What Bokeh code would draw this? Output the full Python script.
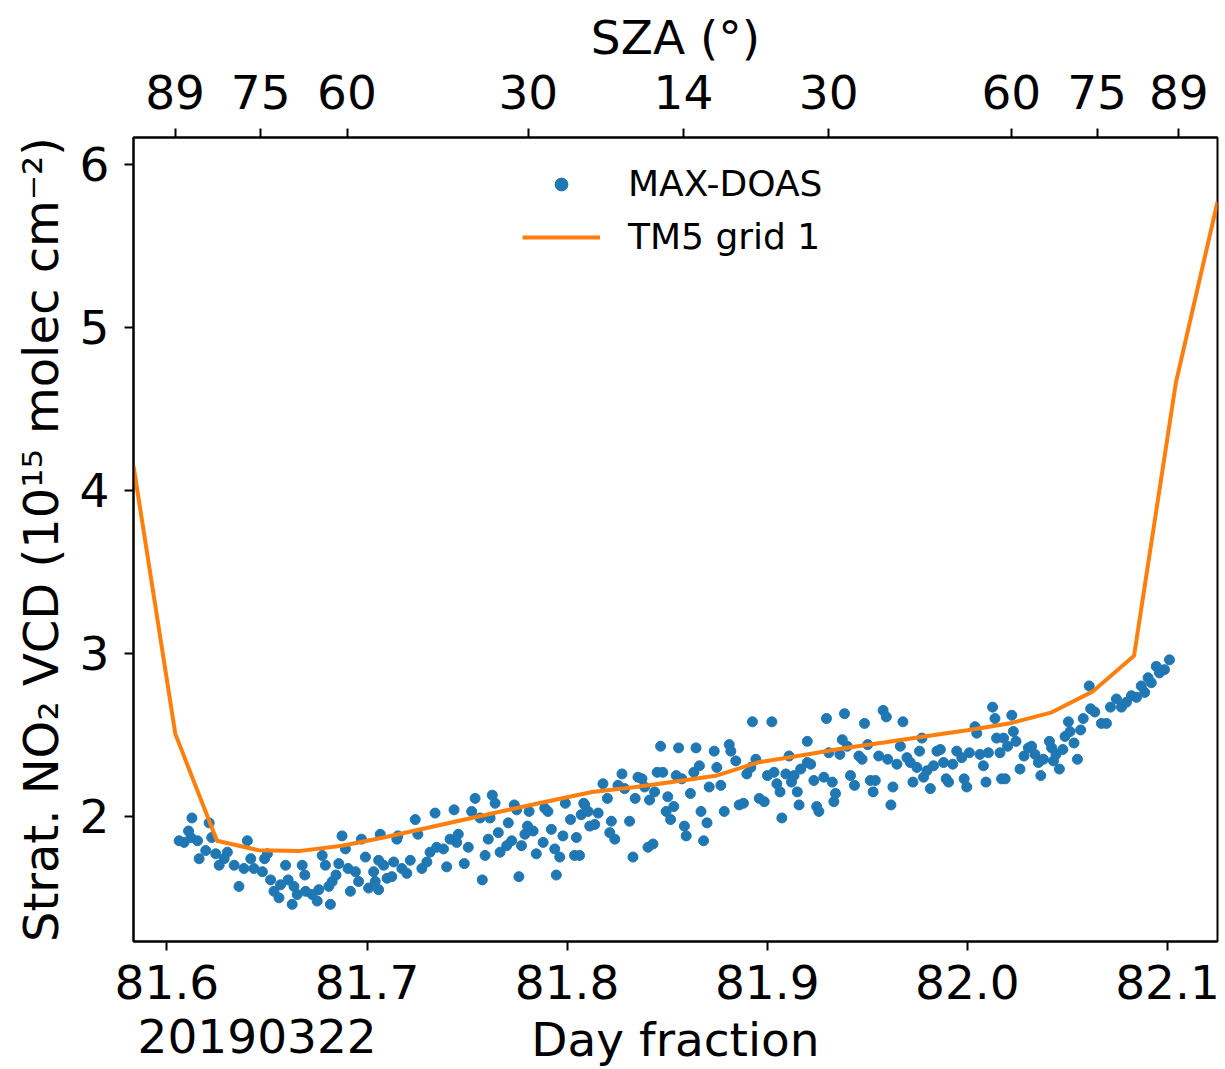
from bokeh.plotting import figure
from bokeh.models import (Range1d, LinearAxis, FixedTicker, NumeralTickFormatter,
                          Legend, LegendItem)
from bokeh.embed import file_html
from bokeh.resources import INLINE

FONT = "DejaVu Sans"

# ---------------- data ----------------
tm5_time = [81.5833, 81.6042, 81.6250, 81.6458, 81.6667, 81.6875, 81.7083, 81.7292,
            81.7500, 81.7708, 81.7917, 81.8125, 81.8333, 81.8542, 81.8750, 81.8958,
            81.9167, 81.9375, 81.9583, 81.9792, 82.0000, 82.0208, 82.0417, 82.0625,
            82.0833, 82.1042, 82.1250]
tm5_vcd = [4.15, 2.506, 1.85, 1.792, 1.788, 1.82, 1.87, 1.927,
           1.984, 2.04, 2.096, 2.149, 2.179, 2.214, 2.251, 2.332,
           2.373, 2.416, 2.453, 2.491, 2.528, 2.569, 2.636, 2.765,
           2.985, 4.66, 5.77]

maxdoas_time = [
    81.6125, 81.6211, 81.6108, 81.6061, 81.6086, 81.6120, 81.6153, 81.6224, 81.6402, 81.6194,
    81.6161, 81.6244, 81.6302, 81.6286, 81.6336, 81.6261, 81.6385, 81.6419, 81.6435, 81.6477,
    81.6488, 81.6502, 81.6360, 81.6518, 81.6535, 81.6568, 81.6593, 81.6606, 81.6626, 81.6651,
    81.6676, 81.6689, 81.6726, 81.6759, 81.6776, 81.6792, 81.6817, 81.6826, 81.6845, 81.6859,
    81.6875, 81.6892, 81.6905, 81.6917, 81.6942, 81.6958, 81.6972, 81.6992, 81.7008, 81.7033,
    81.6560, 81.6693, 81.6751, 81.6635, 81.6809,
    81.7041, 81.7058, 81.7066, 81.7058, 81.7083, 81.7100, 81.7124, 81.7133, 81.7154, 81.7149,
    81.7174, 81.7199, 81.7216, 81.7241, 81.7254, 81.7274, 81.7299, 81.7315, 81.7340, 81.7348,
    81.7382, 81.7398, 81.7415, 81.7435, 81.7448, 81.7456, 81.7486, 81.7506, 81.7523, 81.7540,
    81.7565, 81.7576, 81.7590, 81.7606, 81.7615, 81.7626, 81.7640, 81.7656, 81.7665, 81.7698,
    81.7706, 81.7723, 81.7736, 81.7748, 81.7759, 81.7772, 81.7789, 81.7802, 81.7810, 81.7830,
    81.7846, 81.7880, 81.7888, 81.7904, 81.7921, 81.7938, 81.7946, 81.7963, 81.7979, 81.7991,
    81.8017, 81.8037, 81.8046, 81.8062, 81.8070, 81.8083,
    81.8088, 81.8105, 81.8113, 81.8138, 81.8155, 81.8179, 81.8201, 81.8221, 81.8213, 81.8238,
    81.8254, 81.8274, 81.8287, 81.8312, 81.8329, 81.8340, 81.8354, 81.8374, 81.8387, 81.8404,
    81.8412, 81.8429, 81.8437, 81.8450, 81.8467, 81.8478, 81.8495, 81.8503, 81.8517, 81.8533,
    81.8545, 81.8557, 81.8573, 81.8586, 81.8595, 81.8616, 81.8633, 81.8644, 81.8661, 81.8669,
    81.8682, 81.8699, 81.8710, 81.8735, 81.8748, 81.8768, 81.8785, 81.8810, 81.8818, 81.8843,
    81.8860, 81.8881, 81.8898, 81.8918, 81.8926, 81.8943, 81.8960, 81.8985, 81.9001, 81.9023,
    81.9034, 81.9048, 81.9064, 81.9073, 81.9093, 81.9109, 81.9121,
    81.9134, 81.9150, 81.9159, 81.9167, 81.9200, 81.9200, 81.9217, 81.9233, 81.9247, 81.9258,
    81.9283, 81.9296, 81.9308, 81.9325, 81.9341, 81.9333, 81.9363, 81.9375, 81.9386, 81.9400,
    81.9416, 81.9436, 81.9458, 81.9474, 81.9486, 81.9502, 81.9515, 81.9529, 81.9540, 81.9557,
    81.9579, 81.9595, 81.9602, 81.9628, 81.9618, 81.9648, 81.9665, 81.9678, 81.9698, 81.9715,
    81.9728, 81.9748, 81.9761, 81.9773, 81.9781, 81.9798, 81.9815, 81.9831, 81.9848, 81.9865,
    81.9881, 81.9894, 81.9906, 81.9927, 81.9947, 81.9972, 81.9984, 81.9997, 82.0010, 82.0038,
    82.0047, 82.0063, 82.0080, 82.0093, 82.0105, 82.0126, 82.0138, 82.0146, 82.0163, 82.0171,
    82.0181, 82.0189, 82.0201, 82.0222, 82.0230, 82.0243, 82.0263, 82.0283, 82.0305, 82.0321,
    82.0338, 82.0355, 82.0367, 82.0380, 82.0410, 82.0421, 82.0430, 82.0443, 82.0460, 82.0477,
    82.0488, 82.0505, 82.0513, 82.0533, 82.0550, 82.0566, 82.0579, 82.0609, 82.0616, 82.0637,
    82.0670, 82.0695, 82.0715, 82.0745, 82.0770, 82.0795, 82.0820, 82.0845, 82.0869, 82.0886,
    82.0903, 82.0919, 82.0944, 82.0960, 82.0985, 82.1010,
]
maxdoas_vcd = [
    1.99, 1.96, 1.91, 1.85, 1.84, 1.87, 1.85, 1.87, 1.85, 1.79,
    1.74, 1.77, 1.78, 1.74, 1.70, 1.70, 1.68, 1.74, 1.68, 1.66,
    1.74, 1.77, 1.57, 1.61, 1.54, 1.58, 1.70, 1.61, 1.46, 1.52,
    1.70, 1.64, 1.52, 1.55, 1.76, 1.70, 1.46, 1.60, 1.64, 1.71,
    1.88, 1.80, 1.68, 1.54, 1.66, 1.60, 1.86, 1.75, 1.56, 1.66,
    1.50, 1.54, 1.48, 1.57, 1.57,
    1.60, 1.55, 1.89, 1.73, 1.70, 1.62, 1.63, 1.72, 1.88, 1.86,
    1.68, 1.65, 1.73, 1.98, 1.89, 1.68, 1.72, 1.78, 2.02, 1.81,
    1.80, 1.69, 1.86, 2.04, 1.84, 1.89, 1.71, 1.81, 2.03, 2.11,
    1.99, 1.61, 1.76, 1.86, 1.99, 2.13, 2.08, 1.90, 1.78, 1.82,
    1.96, 1.85, 2.07, 2.04, 1.63, 1.82, 1.89, 1.94, 2.03, 1.91,
    1.77, 1.84, 2.05, 2.03, 1.92, 1.80, 1.64, 1.75, 1.88, 2.08,
    1.98, 1.76, 1.87, 1.76, 2.01, 2.08,
    2.07, 2.03, 1.94, 1.95, 2.02, 2.20, 2.11, 1.97, 1.90, 1.86,
    2.19, 2.26, 2.17, 1.97, 1.75, 2.11, 2.24, 2.23, 2.18, 1.81,
    2.10, 1.83, 2.15, 2.27, 2.43, 2.27, 2.03, 2.12, 1.98, 2.06,
    2.25, 2.42, 2.23, 1.94, 1.88, 2.14, 2.27, 2.42, 2.31, 2.03,
    1.85, 1.96, 2.18, 2.40, 2.30, 2.19, 2.03, 2.44, 2.40, 2.34,
    2.07, 2.08, 2.26, 2.30, 2.58, 2.35, 2.11, 2.09, 2.25, 2.58,
    2.27, 2.20, 2.15, 1.99, 2.26, 2.37, 2.21,
    2.25, 2.15, 2.07, 2.29, 2.33, 2.46, 2.32, 2.22, 2.06, 2.03,
    2.24, 2.60, 2.39, 2.21, 2.14, 2.09, 2.38, 2.47, 2.63, 2.43,
    2.25, 2.19, 2.37, 2.35, 2.57, 2.44, 2.22, 2.15, 2.22, 2.37,
    2.65, 2.61, 2.35, 2.18, 2.07, 2.32, 2.43, 2.58, 2.36, 2.33,
    2.21, 2.30, 2.40, 2.48, 2.24, 2.28, 2.17, 2.31, 2.40, 2.41,
    2.33, 2.23, 2.21, 2.32, 2.40, 2.36, 2.23, 2.18, 2.39, 2.55,
    2.51, 2.38, 2.31, 2.21, 2.39, 2.67, 2.60, 2.48, 2.39, 2.23,
    2.48, 2.23, 2.43, 2.62, 2.52, 2.46, 2.29, 2.37, 2.42, 2.43,
    2.38, 2.33, 2.25, 2.35, 2.46, 2.42, 2.34, 2.38, 2.29, 2.41,
    2.49, 2.58, 2.52, 2.45, 2.35, 2.53, 2.60, 2.80, 2.66, 2.64,
    2.57, 2.57, 2.67, 2.72, 2.67, 2.70, 2.74, 2.73, 2.80, 2.76,
    2.85, 2.82, 2.92, 2.88, 2.90, 2.96,
]

x_ticks = [81.6, 81.7, 81.8, 81.9, 82.0, 82.1]
y_ticks = [2, 3, 4, 5, 6]
sza_tick_time = [81.6041, 81.6469, 81.6900, 81.7806, 81.8581, 81.9307, 82.0220, 82.0648, 82.1057]
sza_tick_labels = ["89", "75", "60", "30", "14", "30", "60", "75", "89"]
date_label = "20190322"
date_label_time = 81.6451

# ---------------- figure ----------------
p = figure(width=1225, height=1069, output_backend="svg", toolbar_location=None,
           x_range=Range1d(81.5833, 82.125), y_range=Range1d(1.232, 6.165),
           x_axis_location=None,
           min_border_left=133, min_border_right=8, min_border_top=137,
           min_border_bottom=126, background_fill_color="white",
           border_fill_color="white")
p.grid.visible = False
p.outline_line_color = "black"
p.outline_line_width = 2

sc = p.scatter(maxdoas_time, maxdoas_vcd, size=10, marker="circle",
               fill_color="#1f77b4", line_color="#1f77b4")
ln = p.line(tm5_time, tm5_vcd, line_width=4, line_color="#ff7f0e")


def style(ax):
    ax.axis_line_color = "black"
    ax.axis_line_width = 2
    ax.major_tick_line_width = 2
    ax.major_tick_line_color = "black"
    ax.major_tick_out = 9
    ax.major_tick_in = 0
    ax.minor_tick_line_color = None
    ax.major_label_text_font = FONT
    ax.major_label_text_font_size = "47px"
    ax.major_label_text_color = "black"
    ax.axis_label_text_font = FONT
    ax.axis_label_text_font_size = "47px"
    ax.axis_label_text_font_style = "normal"
    ax.axis_label_text_color = "black"


# bottom axis: day fraction ticks
xa = LinearAxis(ticker=FixedTicker(ticks=x_ticks),
                formatter=NumeralTickFormatter(format="0.0"))
style(xa)
xa.major_label_standoff = 14
p.add_layout(xa, "below")

# second row below: date and axis title on the same line
xb = LinearAxis(ticker=FixedTicker(ticks=[date_label_time]), axis_label="Day fraction")
style(xb)
xb.major_label_overrides = {date_label_time: date_label}
xb.axis_line_color = None
xb.major_tick_line_color = None
xb.major_tick_out = 0
xb.major_label_standoff = 17
xb.axis_label_standoff = -44
p.add_layout(xb, "below")

ya = p.yaxis[0]
ya.ticker = FixedTicker(ticks=y_ticks)
ya.axis_label = "Strat. NO\u2082 VCD (10\u00b9\u2075 molec cm\u207b\u00b2)"
style(ya)
ya.axis_label_text_font_size = "48px"
ya.major_label_standoff = 15
ya.axis_label_standoff = 8

top = LinearAxis(ticker=FixedTicker(ticks=sza_tick_time), axis_label="SZA (\u00b0)")
top.major_label_overrides = {t: l for t, l in zip(sza_tick_time, sza_tick_labels)}
style(top)
top.major_label_standoff = 20
top.axis_label_standoff = 7
p.add_layout(top, "above")

legend = Legend(items=[LegendItem(label="MAX-DOAS", renderers=[sc]),
                       LegendItem(label="TM5 grid 1", renderers=[ln])],
                location=(389, 684), border_line_alpha=0, background_fill_alpha=0,
                label_text_font=FONT, label_text_font_size="36px",
                label_text_color="black",
                glyph_width=78, glyph_height=32, label_height=32, spacing=12,
                padding=0, margin=0, label_standoff=28)
p.add_layout(legend)

open("out.html", "w").write(file_html(p, INLINE))
